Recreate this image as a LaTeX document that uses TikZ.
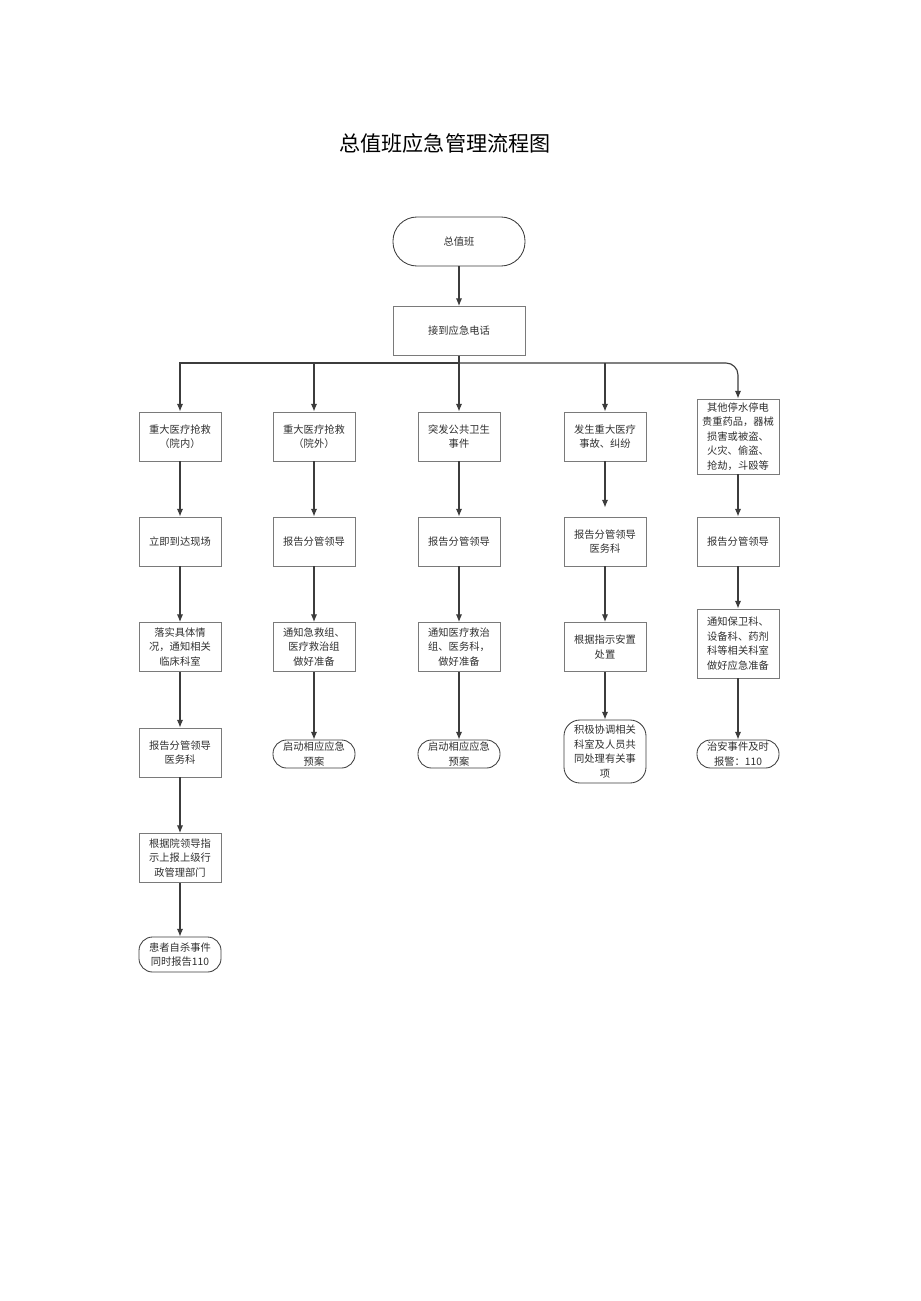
\documentclass[tikz,border=0pt]{standalone}
\usepackage{fontspec}
\setmainfont{Noto Sans CJK SC}
\usepackage{tikz}
\usetikzlibrary{arrows.meta}

\definecolor{linegray}{HTML}{3C3C3C}
\definecolor{boxgray}{HTML}{7A7A7A}
\definecolor{textgray}{HTML}{303030}

\tikzset{
  proc/.style={draw=boxgray, line width=0.6pt, fill=white, align=center, inner sep=1pt,
    minimum width=2.05cm, minimum height=1.225cm, text=textgray,
    font=\fontsize{7.3}{10.4}\selectfont},
  term/.style={proc, draw=linegray, rounded corners=0.34cm, minimum height=0.7cm},
  arr/.style={draw=linegray, line width=0.8pt, -{Latex[length=5.5pt,width=4.5pt]}},
  ln/.style={draw=linegray, line width=0.8pt}
}

\begin{document}
\begin{tikzpicture}[x=0.025cm, y=-0.025cm]
  \useasboundingbox (0,0) rectangle (920,1301);

  \node[font=\fontsize{15}{18}\selectfont] (title) at (445,143) {总值班应急管理流程图};

  % top
  \node[term, rounded corners=0.6cm, minimum width=3.3cm, minimum height=1.225cm] (duty) at (459,241.5) {总值班};
  \node[proc, minimum width=3.3cm] (call) at (459,331) {接到应急电话};
  \coordinate (bus) at (459,363);

  % first column
  \node[proc] (a1) at (180,436.5) {重大医疗抢救\\（院内）};
  \node[proc] (a2) at (180,541.5) {立即到达现场};
  \node[proc] (a3) at (180,647) {落实具体情\\况，通知相关\\临床科室};
  \node[proc] (a4) at (180,752.5) {报告分管领导\\医务科};
  \node[proc] (a5) at (180,858) {根据院领导指\\示上报上级行\\政管理部门};
  \node[term, minimum height=0.875cm] (a6) at (180,954.5) {患者自杀事件\\同时报告110};

  % second column
  \node[proc] (b1) at (314,436.5) {重大医疗抢救\\（院外）};
  \node[proc] (b2) at (314,541.5) {报告分管领导};
  \node[proc] (b3) at (314,647) {通知急救组、\\医疗救治组\\做好准备};
  \node[term] (b4) at (314,754) {启动相应应急\\预案};

  % third column
  \node[proc] (c1) at (459,436.5) {突发公共卫生\\事件};
  \node[proc] (c2) at (459,541.5) {报告分管领导};
  \node[proc] (c3) at (459,647) {通知医疗救治\\组、医务科，\\做好准备};
  \node[term] (c4) at (459,754) {启动相应应急\\预案};

  % fourth column
  \node[proc] (d1) at (605,436.5) {发生重大医疗\\事故、纠纷};
  \node[proc] (d2) at (605,541.5) {报告分管领导\\医务科};
  \node[proc] (d3) at (605,647) {根据指示安置\\处置};
  \node[term, rounded corners=0.4cm, minimum height=1.575cm] (d4) at (605,751.5) {积极协调相关\\科室及人员共\\同处理有关事\\项};

  % fifth column
  \node[proc, minimum height=1.875cm] (e1) at (738,436.5) {其他停水停电\\贵重药品，器械\\损害或被盗、\\火灾、偷盗、\\抢劫，斗殴等};
  \node[proc] (e2) at (738,541.5) {报告分管领导};
  \node[proc, minimum height=1.725cm] (e3) at (738,643.5) {通知保卫科、\\设备科、药剂\\科等相关科室\\做好应急准备};
  \node[term] (e4) at (738,754) {治安事件及时\\报警：110};

  % connectors
  \draw[arr] (duty) -- (call);
  \draw[ln] (call) -- (bus);
  \draw[arr] (bus) -| (a1.north);
  \draw[arr, rounded corners=0.3cm] (bus) -| (e1.north);
  \draw[arr] (b1 |- bus) -- (b1);
  \draw[arr] (bus) -- (c1);
  \draw[arr] (d1 |- bus) -- (d1);

  \draw[arr] (a1) -- (a2);
  \draw[arr] (a2) -- (a3);
  \draw[arr] (a3) -- (a4);
  \draw[arr] (a4) -- (a5);
  \draw[arr] (a5) -- (a6);

  \draw[arr] (b1) -- (b2);
  \draw[arr] (b2) -- (b3);
  \draw[arr] (b3) -- (b4);

  \draw[arr] (c1) -- (c2);
  \draw[arr] (c2) -- (c3);
  \draw[arr] (c3) -- (c4);

  \draw[arr, shorten >=0.225cm] (d1) -- (d2);
  \draw[arr] (d2) -- (d3);
  \draw[arr] (d3) -- (d4);

  \draw[arr] (e1) -- (e2);
  \draw[arr] (e2) -- (e3);
  \draw[arr] (e3) -- (e4);
\end{tikzpicture}
\end{document}
